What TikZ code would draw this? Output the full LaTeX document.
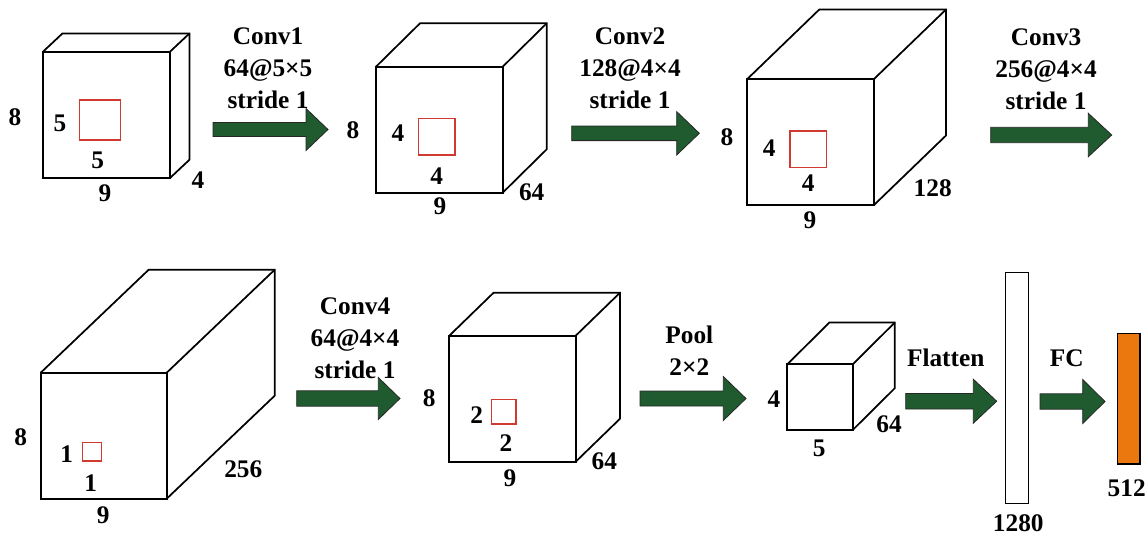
\documentclass[tikz,border=0pt]{standalone}
\usepackage{fontspec}
\setmainfont{Liberation Serif}
\definecolor{arrgreen}{HTML}{1F5B2E}
\definecolor{boxred}{HTML}{D03A30}
\definecolor{fcorange}{HTML}{EA780E}
\tikzset{
  cubeline/.style={draw=black, line width=1.3pt, line join=miter},
  redsq/.style={draw=boxred, line width=0.9pt},
  blockarrow/.style={fill=arrgreen, draw=black!85, line width=0.6pt, line join=miter},
  lbl/.style={font=\fontsize{19}{24}\selectfont\bfseries, inner sep=0pt, anchor=center},
  oplbl/.style={lbl, align=center},
  barbox/.style={draw=black, line width=1.1pt}
}
% #1 x, #2 y (front top-left), #3 w, #4 h, #5 dx, #6 dy (up)
\newcommand{\mycube}[6]{%
  \draw[cubeline] (#1,#2) rectangle ({#1+#3},{#2+#4});
  \draw[cubeline] (#1,#2) -- ++(#5,-#6) -- ++(#3,0) -- ++(0,#4) -- ({#1+#3},{#2+#4});
  \draw[cubeline] ({#1+#3},#2) -- ++(#5,-#6);
}
% #1 x1, #2 x2, #3 yc, #4 body half, #5 head half, #6 head start
\newcommand{\blockarr}[6]{%
  \draw[blockarrow] (#1,{#3-#4}) -- (#6,{#3-#4}) -- (#6,{#3-#5}) -- (#2,#3)
    -- (#6,{#3+#5}) -- (#6,{#3+#4}) -- (#1,{#3+#4}) -- cycle;
}
\begin{document}
\begin{tikzpicture}[x=0.75pt,y=-0.75pt]
\useasboundingbox (0,0) rectangle (1148,536);

% cubes
\mycube{43}{51.7}{127}{126.3}{19.5}{18.3}
\mycube{376}{66.7}{126.7}{126}{44}{43.4}
\mycube{747.3}{79}{126.7}{126}{72}{69.5}
\mycube{40.7}{372.7}{126}{126}{108}{103}
\mycube{449.3}{335.7}{126.4}{126}{44.3}{43}
\mycube{787.3}{364.3}{65.4}{65.7}{42}{41.7}

% red kernels
\draw[redsq] (79.3,100) rectangle (120.7,140);
\draw[redsq] (418.7,118.3) rectangle (455,155);
\draw[redsq] (790,131) rectangle (826.7,167.3);
\draw[redsq] (82.7,442.7) rectangle (101.7,461);
\draw[redsq] (491.7,399.3) rectangle (516,424);

% bars
\draw[barbox, fill=white] (1005.7,272.7) rectangle (1028.3,503.3);
\draw[barbox, fill=fcorange] (1117.5,333.3) rectangle (1140,464);

% arrows
\blockarr{213}{328}{129.5}{7}{21}{306}
\blockarr{571.7}{699.3}{133.3}{7.3}{21.7}{676.7}
\blockarr{990.7}{1111.7}{135}{7.7}{21.7}{1088.3}
\blockarr{296.7}{400}{398.5}{7.7}{21}{378.3}
\blockarr{640}{746}{398.5}{7.5}{22}{723.3}
\blockarr{905.7}{996.7}{401.2}{7.8}{22}{973.3}
\blockarr{1040}{1105}{401.5}{7.7}{22}{1082.7}

% operation labels
\node[oplbl] (op1) at (268,68) {Conv1\\64@5×5\\stride 1};
\node[oplbl] (op2) at (630,68) {Conv2\\128@4×4\\stride 1};
\node[oplbl] (op3) at (1046,69) {Conv3\\256@4×4\\stride 1};
\node[oplbl] (op4) at (355,338) {Conv4\\64@4×4\\stride 1};
\node[oplbl] (op5) at (689.3,351) {Pool\\2×2};
\node[lbl] (op6) at (945.7,358.3) {Flatten};
\node[lbl] (op7) at (1066.7,358.3) {FC};

% cube 1 labels
\node[lbl] (c1h) at (15,116.7) {8};
\node[lbl] (c1kh) at (60,123) {5};
\node[lbl] (c1kw) at (97.7,160) {5};
\node[lbl] (c1w) at (105,193) {9};
\node[lbl] (c1d) at (198,180) {4};
% cube 2 labels
\node[lbl] (c2h) at (353,130) {8};
\node[lbl] (c2kh) at (398,133) {4};
\node[lbl] (c2kw) at (436.7,175.7) {4};
\node[lbl] (c2w) at (440,206.7) {9};
\node[lbl] (c2d) at (531.7,192.7) {64};
% cube 3 labels
\node[lbl] (c3h) at (727,137) {8};
\node[lbl] (c3kh) at (769.3,148.3) {4};
\node[lbl] (c3kw) at (808.3,183.3) {4};
\node[lbl] (c3w) at (810,220) {9};
\node[lbl] (c3d) at (932.7,188.3) {128};
% cube 4 labels
\node[lbl] (c4h) at (20.7,436.7) {8};
\node[lbl] (c4kh) at (66.7,454) {1};
\node[lbl] (c4kw) at (90.7,483.3) {1};
\node[lbl] (c4w) at (103.3,515) {9};
\node[lbl] (c4d) at (243.3,469.3) {256};
% cube 5 labels
\node[lbl] (c5h) at (429.3,398.3) {8};
\node[lbl] (c5kh) at (476.7,415) {2};
\node[lbl] (c5kw) at (506,443.3) {2};
\node[lbl] (c5w) at (510,478) {9};
\node[lbl] (c5d) at (604.3,461.7) {64};
% cube 6 labels
\node[lbl] (c6h) at (774,399.3) {4};
\node[lbl] (c6w) at (819.3,448.3) {5};
\node[lbl] (c6d) at (889,424) {64};
% bar labels
\node[lbl] (b1) at (1018.3,523.3) {1280};
\node[lbl] (b2) at (1126.7,488.3) {512};
\end{tikzpicture}
\end{document}
